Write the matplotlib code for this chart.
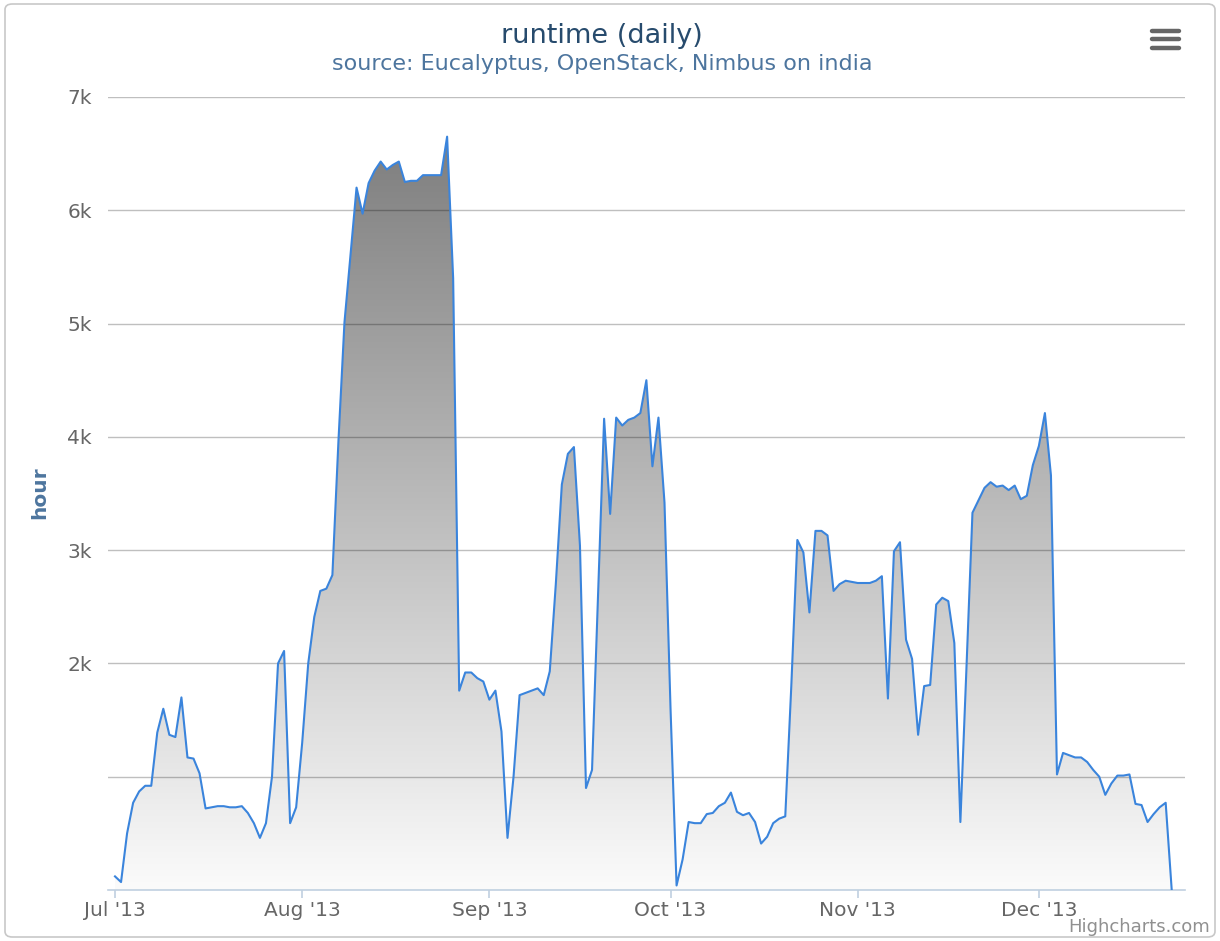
import numpy as np
import pandas as pd
import matplotlib
matplotlib.use("Agg")
import matplotlib.pyplot as plt
import matplotlib.dates as mdates
from matplotlib.patches import FancyBboxPatch
from matplotlib.lines import Line2D
from matplotlib.colors import LinearSegmentedColormap

# daily runtime in hours, Jul 1 2013 .. Dec 23 2013
runtime_jul = [120, 70, 500, 770, 870, 920, 920, 1390, 1600, 1370, 1350, 1700,
               1170, 1160, 1030, 720, 730, 740, 740, 730, 730, 740, 680, 590,
               460, 590, 1000, 2000, 2110, 590, 730]
runtime_aug = [1300, 2000, 2410, 2640, 2660, 2780, 3960, 5010, 5600, 6200, 5970,
               6240, 6350, 6430, 6360, 6400, 6430, 6250, 6260, 6260, 6310, 6310,
               6310, 6310, 6650, 5400, 1760, 1920, 1920, 1870, 1840]
runtime_sep = [1680, 1760, 1400, 460, 1000, 1720, 1740, 1760, 1780, 1720, 1930,
               2700, 3580, 3850, 3910, 3040, 900, 1060, 2600, 4160, 3320, 4170,
               4100, 4150, 4170, 4210, 4500, 3740, 4170, 3420]
runtime_oct = [1600, 40, 270, 600, 590, 590, 670, 680, 740, 770, 860, 690, 660,
               680, 600, 410, 470, 590, 630, 650, 1800, 3090, 2980, 2450, 3170,
               3170, 3130, 2640, 2700, 2730, 2720]
runtime_nov = [2710, 2710, 2710, 2730, 2770, 1690, 2990, 3070, 2210, 2040, 1370,
               1800, 1810, 2520, 2580, 2550, 2180, 600, 1950, 3330, 3440, 3550,
               3600, 3560, 3570, 3530, 3570, 3450, 3480, 3750]
runtime_dec = [3920, 4210, 3660, 1020, 1210, 1190, 1170, 1170, 1130, 1060, 1000,
               840, 940, 1010, 1010, 1020, 760, 750, 600, 670, 730, 770, 0]

y_ticks = [1000, 2000, 3000, 4000, 5000, 6000, 7000]
y_tick_labels = ["", "2k", "3k", "4k", "5k", "6k", "7k"]
month_ticks = ["2013-07-01", "2013-08-01", "2013-09-01", "2013-10-01",
               "2013-11-01", "2013-12-01"]

hours = np.array(runtime_jul + runtime_aug + runtime_sep + runtime_oct
                 + runtime_nov + runtime_dec, dtype=float)
dates = pd.date_range("2013-07-01", periods=len(hours), freq="D")
x = mdates.date2num(dates)

W, H = 1220, 941
fig = plt.figure(figsize=(W / 100, H / 100), dpi=100)
fig.patch.set_facecolor("white")

# rounded chart border
fig.add_artist(FancyBboxPatch((5 / W, 4 / H), 1210 / W, 933 / H,
                              boxstyle="round,pad=0,rounding_size=0.006",
                              transform=fig.transFigure, fill=False,
                              edgecolor="#c8c8c8", linewidth=1.2))

ax = fig.add_axes([108 / W, (H - 890) / H, (1185 - 108) / W, (890 - 97) / H])
x0 = mdates.date2num(pd.Timestamp("2013-07-01"))
ax.set_xlim(x0 - 1.16, x0 + 177.2)
ax.set_ylim(0, 7000)

# gradient filled area (dark at the top, near white at the bottom)
cmap = LinearSegmentedColormap.from_list("g", ["#fbfbfb", "#7e7e7e"])
grad = np.linspace(0, 1, 256).reshape(-1, 1)
im = ax.imshow(grad, cmap=cmap, aspect="auto", origin="lower",
               extent=[x[0], x[-1], 0, hours.max()], zorder=1)
poly = ax.fill_between(x, 0, hours, color="none", zorder=1)
path = poly.get_paths()[0]
im.set_clip_path(path, transform=ax.transData)

for yv in y_ticks:
    ax.axhline(yv, color="black", alpha=0.25, linewidth=1.0, zorder=2)

ax.plot(x, hours, color="#3a84dc", linewidth=1.5, zorder=3,
        solid_joinstyle="round")

for s in ["top", "right", "left"]:
    ax.spines[s].set_visible(False)
ax.spines["bottom"].set_color("#c0d0e0")
ax.spines["bottom"].set_linewidth(1.2)

ax.set_yticks(y_ticks)
ax.set_yticklabels(y_tick_labels)
ax.tick_params(axis="y", length=0, pad=11.5, labelsize=14.5, labelcolor="#666666")

ax.set_xticks(mdates.date2num(pd.to_datetime(month_ticks)))
ax.xaxis.set_major_formatter(mdates.DateFormatter("%b '%y"))
ax.tick_params(axis="x", length=6, width=1.2, color="#c0d0e0", pad=2,
               labelsize=14.5, labelcolor="#666666")

fig.text(40 / W, 1 - 493 / H, "hour", rotation=90, ha="center", va="center",
         fontsize=14.5, fontweight="bold", color="#4d759e")

fig.text(602 / W, 1 - 36 / H, "runtime (daily)", ha="center", va="center",
         fontsize=19.5, color="#274b6d")
fig.text(602 / W, 1 - 64 / H, "source: Eucalyptus, OpenStack, Nimbus on india",
         ha="center", va="center", fontsize=16, color="#4d759e")
fig.text(1210 / W, 1 - 927 / H, "Highcharts.com", ha="right", va="center",
         fontsize=13, color="#909090")

# export menu icon
for yy in (30.5, 39, 47.5):
    fig.add_artist(Line2D([1152 / W, 1179 / W], [1 - yy / H, 1 - yy / H],
                          transform=fig.transFigure, color="#666666",
                          linewidth=3.2, solid_capstyle="round"))

fig.savefig("out.png", dpi=100)
